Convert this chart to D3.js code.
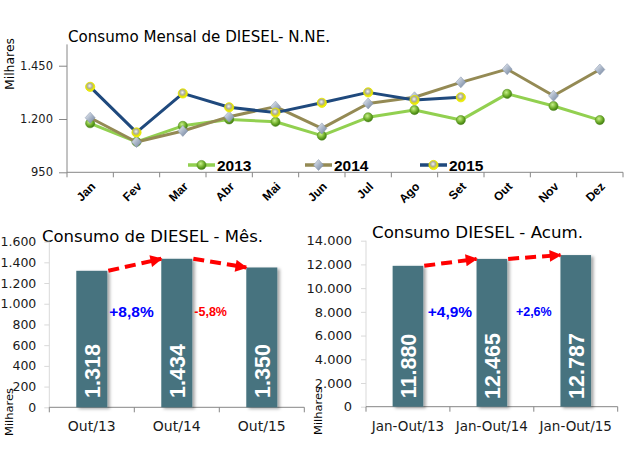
<!DOCTYPE html>
<html><head><meta charset="utf-8">
<script src="https://cdn.jsdelivr.net/npm/d3@7"></script>
<style>
html,body{margin:0;padding:0;background:#fff;}
svg{display:block;}
</style></head>
<body>
<script>
// ---------- DATA ----------
const months = ["Jan","Fev","Mar","Abr","Mai","Jun","Jul","Ago","Set","Out","Nov","Dez"];
const s2013 = [1180,1093,1168,1198,1187,1122,1208,1242,1195,1318,1261,1195];
const s2014 = [1206,1092,1144,1211,1258,1156,1273,1302,1372,1434,1309,1432];
const s2015 = [1351,1137,1320,1255,1230,1276,1325,1289,1302,null,null,null];
const seriesNames = ["2013","2014","2015"];
const topTicks = [950,1200,1450];

const mesCats = ["Out/13","Out/14","Out/15"];
const mesVals = [1318,1434,1350];
const mesPct = ["+8,8%","-5,8%"];
const mesTicks = [0,200,400,600,800,1000,1200,1400,1600];

const acumCats = ["Jan-Out/13","Jan-Out/14","Jan-Out/15"];
const acumVals = [11880,12465,12787];
const acumPct = ["+4,9%","+2,6%"];
const acumTicks = [0,2000,4000,6000,8000,10000,12000,14000];

const titles = ["Consumo Mensal de DIESEL- N.NE.","Consumo de DIESEL - Mês.","Consumo DIESEL - Acum."];
const unitLabel = "Milhares";

// ---------- SETUP ----------
const W = 641, H = 455;
const loc = d3.formatLocale({decimal:",", thousands:".", grouping:[3], currency:["",""]});
const fmt = loc.format(",d");
const svg = d3.select("body").append("svg").attr("width",W).attr("height",H);
const defs = svg.append("defs");

const gG = defs.append("radialGradient").attr("id","gGreen").attr("cx","40%").attr("cy","35%").attr("r","65%");
gG.append("stop").attr("offset","0%").attr("stop-color","#c8f08a");
gG.append("stop").attr("offset","60%").attr("stop-color","#6fae2a");
gG.append("stop").attr("offset","100%").attr("stop-color","#3f7a12");
const gY = defs.append("radialGradient").attr("id","gYellow").attr("cx","45%").attr("cy","40%").attr("r","60%");
gY.append("stop").attr("offset","0%").attr("stop-color","#f4f4f4");
gY.append("stop").attr("offset","45%").attr("stop-color","#adad98");
gY.append("stop").attr("offset","72%").attr("stop-color","#dede10");
gY.append("stop").attr("offset","100%").attr("stop-color","#ffff00");
const gD = defs.append("linearGradient").attr("id","gDiamond").attr("x1","0").attr("y1","0").attr("x2","1").attr("y2","1");
gD.append("stop").attr("offset","0%").attr("stop-color","#f2f5fa");
gD.append("stop").attr("offset","50%").attr("stop-color","#aab6c8");
gD.append("stop").attr("offset","100%").attr("stop-color","#6f809a");

const shadow = defs.append("filter").attr("id","shadow").attr("x","-20%").attr("y","-10%").attr("width","150%").attr("height","130%");
shadow.append("feDropShadow").attr("dx",2.5).attr("dy",1.5).attr("stdDeviation",1.6).attr("flood-color","#000").attr("flood-opacity",0.35);

defs.append("marker").attr("id","arrowHead").attr("viewBox","0 0 10 10").attr("refX",9).attr("refY",5)
  .attr("markerUnits","userSpaceOnUse").attr("markerWidth",14).attr("markerHeight",12).attr("orient","auto")
  .append("path").attr("d","M0,0 L10,5 L0,10 Z").attr("fill","#ff0000");

const bodyFont = "'DejaVu Sans', Verdana, sans-serif";
const boldFont = "'Liberation Sans', Arial, sans-serif";
const axisColor = "#868686";

// ---------- TOP LINE CHART ----------
{
  const x = d3.scaleBand().domain(months).range([67,623]);
  const y = d3.scaleLinear().domain([950,1550]).range([172.3,44.4]);
  const g = svg.append("g");

  g.append("text").attr("x",68).attr("y",42).attr("font-family",bodyFont).attr("font-size",15)
    .attr("textLength",262).attr("lengthAdjust","spacingAndGlyphs").attr("fill","#000").text(titles[0]);

  g.append("text").attr("transform",`translate(14,64) rotate(-90)`).attr("text-anchor","middle")
    .attr("font-family",bodyFont).attr("font-size",12).attr("textLength",52).attr("lengthAdjust","spacingAndGlyphs")
    .attr("fill","#000").text(unitLabel);

  const ya = d3.axisLeft(y).tickValues(topTicks).tickFormat(fmt).tickSize(8).tickPadding(6);
  const yg = g.append("g").attr("transform","translate(67,0)").call(ya);
  yg.select(".domain").attr("stroke",axisColor).attr("d",`M-0,${y(1550)}V${y(950)}`);
  yg.selectAll(".tick line").attr("stroke",axisColor);
  yg.selectAll(".tick text").attr("font-family",bodyFont).attr("font-size",11.5).attr("fill","#1a1a1a");

  const xa = g.append("g");
  xa.append("line").attr("x1",x.range()[0]).attr("x2",x.range()[1]).attr("y1",y(950)).attr("y2",y(950)).attr("stroke",axisColor);
  d3.range(months.length+1).forEach(i=>{
    const xx = x.range()[0] + i*x.step();
    xa.append("line").attr("x1",xx).attr("x2",xx).attr("y1",y(950)).attr("y2",y(950)+5).attr("stroke",axisColor);
  });
  months.forEach(m=>{
    const cx = x(m)+x.bandwidth()/2;
    xa.append("text").attr("transform",`translate(${cx+3},${y(950)+12}) rotate(-45)`)
      .attr("text-anchor","end").attr("dy","0.35em").attr("font-family",boldFont).attr("font-weight","bold")
      .attr("font-size",12).attr("fill","#000").text(m);
  });

  const line = d3.line().defined(d=>d!=null).x((d,i)=>x(months[i])+x.bandwidth()/2).y(d=>y(d));
  const data = [s2013,s2014,s2015];
  const colors = ["#92d050","#948a54","#1f497d"];
  const drawMarker = (sel,k,cx,cy)=>{
    if(k===0) sel.append("circle").attr("cx",cx).attr("cy",cy).attr("r",4.6).attr("fill","url(#gGreen)").attr("stroke","#4f8a1a").attr("stroke-width",0.5);
    else if(k===1) sel.append("path").attr("d",`M${cx},${cy-5.5}L${cx+5},${cy}L${cx},${cy+5.5}L${cx-5},${cy}Z`).attr("fill","url(#gDiamond)").attr("stroke","#8090a8").attr("stroke-width",0.5);
    else sel.append("circle").attr("cx",cx).attr("cy",cy).attr("r",4.6).attr("fill","url(#gYellow)").attr("stroke","#e0e000").attr("stroke-width",0.8);
  };
  data.forEach((s,k)=>{
    g.append("path").attr("d",line(s)).attr("fill","none").attr("stroke",colors[k]).attr("stroke-width",3).attr("stroke-linejoin","round");
    const mg = g.append("g");
    s.forEach((v,i)=>{ if(v!=null) drawMarker(mg,k,x(months[i])+x.bandwidth()/2,y(v)); });
  });

  const legX = [188,305,420];
  const legY = 165;
  seriesNames.forEach((n,k)=>{
    const lg = g.append("g");
    lg.append("line").attr("x1",legX[k]).attr("x2",legX[k]+27).attr("y1",legY).attr("y2",legY).attr("stroke",colors[k]).attr("stroke-width",3.5);
    drawMarker(lg,k,legX[k]+13.5,legY);
    lg.append("text").attr("x",legX[k]+29).attr("y",legY+5.5).attr("font-family",boldFont).attr("font-weight","bold")
      .attr("font-size",15.5).attr("fill","#000").text(n);
  });
}

// ---------- BAR CHARTS ----------
function barChart(opt){
  const x = d3.scaleBand().domain(opt.cats).range(opt.xr).paddingInner(0.635).paddingOuter(0.3175);
  const y = d3.scaleLinear().domain([0,opt.max]).range(opt.yr);
  const g = svg.append("g");

  g.append("text").attr("x",opt.titleX).attr("y",opt.titleY).attr("font-family",bodyFont).attr("font-size",16.5)
    .attr("textLength",opt.titleW).attr("lengthAdjust","spacingAndGlyphs").attr("fill","#000").text(opt.title);

  g.append("text").attr("transform",`translate(${opt.unitX},${opt.unitY}) rotate(-90)`).attr("text-anchor","middle")
    .attr("font-family",bodyFont).attr("font-size",11).attr("textLength",48).attr("lengthAdjust","spacingAndGlyphs")
    .attr("fill","#000").text(unitLabel);

  const ya = d3.axisLeft(y).tickValues(opt.ticks).tickFormat(fmt).tickSize(5).tickPadding(opt.tickPad);
  const yg = g.append("g").attr("transform",`translate(${opt.xr[0]},0)`).call(ya);
  yg.select(".domain").attr("stroke","#d9d9d9").attr("d",`M-0,${y(opt.max)}V${y(0)}`);
  yg.selectAll(".tick line").attr("stroke","#d9d9d9");
  yg.selectAll(".tick text").attr("font-family",bodyFont).attr("font-size",opt.tickFs).attr("fill","#1a1a1a");

  g.append("line").attr("x1",opt.xr[0]).attr("x2",opt.xr[1]).attr("y1",y(0)).attr("y2",y(0)).attr("stroke",axisColor);
  d3.range(opt.cats.length+1).forEach(i=>{
    const xx = opt.xr[0] + i*x.step();
    g.append("line").attr("x1",xx).attr("x2",xx).attr("y1",y(0)).attr("y2",y(0)+5).attr("stroke",axisColor);
  });
  opt.cats.forEach(c=>{
    g.append("text").attr("x",x(c)+x.bandwidth()/2).attr("y",y(0)+24).attr("text-anchor","middle")
      .attr("font-family",bodyFont).attr("font-size",opt.catFs).attr("fill","#1a1a1a").text(c);
  });

  g.selectAll("rect.bar").data(opt.vals).join("rect").attr("class","bar")
    .attr("x",(d,i)=>x(opt.cats[i])).attr("width",x.bandwidth())
    .attr("y",d=>y(d)).attr("height",d=>y(0)-y(d))
    .attr("fill","#46737f").attr("filter","url(#shadow)");

  opt.vals.forEach((v,i)=>{
    const cx = x(opt.cats[i])+x.bandwidth()/2;
    g.append("text").attr("transform",`translate(${cx},${opt.valY}) rotate(-90)`).attr("text-anchor","middle")
      .attr("dy","0.36em").attr("font-family",boldFont).attr("font-weight","bold").attr("font-size",21.5)
      .attr("fill","#ffffff").text(fmt(v));
  });

  for(let i=0;i<opt.vals.length-1;i++){
    const x1 = x(opt.cats[i])+x.bandwidth()+1, y1 = y(opt.vals[i]);
    const x2 = x(opt.cats[i+1]), y2 = y(opt.vals[i+1]);
    g.append("line").attr("x1",x1).attr("y1",y1).attr("x2",x2).attr("y2",y2)
      .attr("stroke","#ff0000").attr("stroke-width",4).attr("stroke-dasharray","11,6")
      .attr("marker-end","url(#arrowHead)");
    const right = x(opt.cats[i])+x.bandwidth(), left = x(opt.cats[i+1]);
    const up = opt.pct[i].startsWith("+");
    g.append("text")
      .attr("x", opt.pctAnchor==="start" ? right+2 : (right+left)/2)
      .attr("y",311.7).attr("dy","0.36em").attr("text-anchor",opt.pctAnchor)
      .attr("font-family",boldFont).attr("font-weight","bold").attr("font-size",opt.pctFs[i])
      .attr("fill",up?"#0000ff":"#ff0000").text(opt.pct[i]);
  }
}

barChart({cats:mesCats, vals:mesVals, pct:mesPct, ticks:mesTicks, max:1600,
  xr:[49.3,304.3], yr:[407.3,241.6], title:titles[1], titleX:42, titleY:242, titleW:221,
  unitX:13, unitY:412, tickPad:8, tickFs:12.5, catFs:14, valY:371, pctAnchor:"start", pctFs:[15.5,12.5]});

barChart({cats:acumCats, vals:acumVals, pct:acumPct, ticks:acumTicks, max:14000,
  xr:[366,617.7], yr:[406.7,240.7], title:titles[2], titleX:372, titleY:238, titleW:211,
  unitX:322, unitY:411, tickPad:9, tickFs:13, catFs:13.5, valY:366, pctAnchor:"middle", pctFs:[15.5,12.5]});
</script>
</body></html>
